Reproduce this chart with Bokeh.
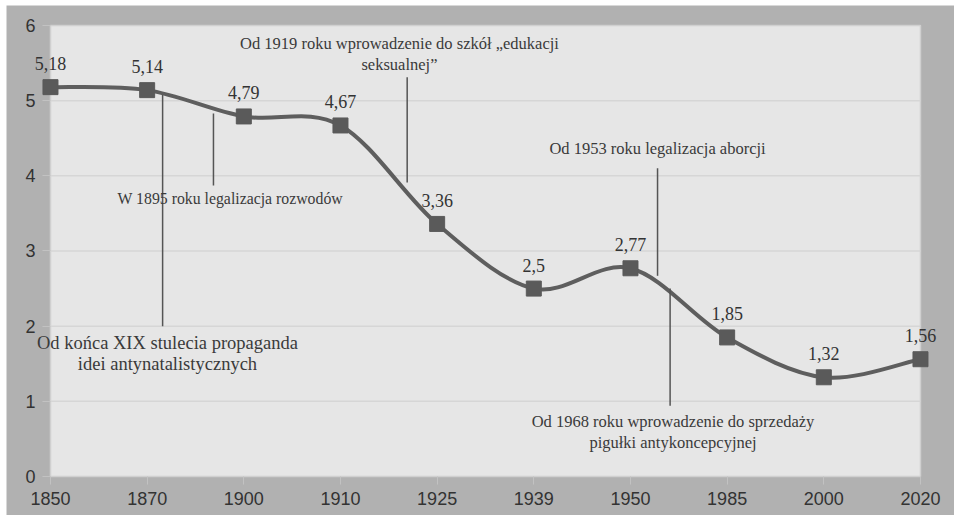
from bokeh.plotting import figure
from bokeh.models import FixedTicker, Range1d, ColumnDataSource, Label, LabelSet, Spacer
from bokeh.layouts import row, column
from bokeh.embed import file_html
from bokeh.resources import INLINE

# ---- data ----
years = ["1850", "1870", "1900", "1910", "1925", "1939", "1950", "1985", "2000", "2020"]
tfr = [5.18, 5.14, 4.79, 4.67, 3.36, 2.5, 2.77, 1.85, 1.32, 1.56]
tfr_labels = ["5,18", "5,14", "4,79", "4,67", "3,36", "2,5", "2,77", "1,85", "1,32", "1,56"]
y_ticks = [0, 1, 2, 3, 4, 5, 6]

# annotations: text lines, anchor (category index, value), leader lines
note_lines = [
    ["Od końca XIX stulecia propaganda", "idei antynatalistycznych"],
    ["W 1895 roku legalizacja rozwodów"],
    ["Od 1919 roku wprowadzenie do szkół „edukacji", "seksualnej”"],
    ["Od 1953 roku legalizacja aborcji"],
    ["Od 1968 roku wprowadzenie do sprzedaży", "pigułki antykoncepcyjnej"],
]
note_x = [1.21, 1.86, 3.61, 6.28, 6.44]
note_y = [1.77, 3.70, 5.76, 4.36, 0.73]
note_size = ["18.5px", "15.8px", "16.5px", "16.5px", "16.5px"]
lead_x = [1.16, 1.686, 3.69, 6.28, 6.41]
lead_y0 = [5.08, 4.83, 5.31, 4.10, 2.50]
lead_y1 = [2.00, 3.87, 3.91, 2.67, 0.94]

xs = list(range(len(years)))

# frame spans the whole figure; the light plot box is drawn from the data extent
p = figure(width=948, height=510, output_backend="svg", toolbar_location=None,
           x_range=Range1d(-0.455, 9.352), y_range=Range1d(-0.519, 6.266),
           min_border=0, min_border_left=0, min_border_right=0,
           min_border_top=0, min_border_bottom=0)
p.background_fill_color = "#b1b1b1"
p.border_fill_color = "#b1b1b1"
p.outline_line_color = None
p.xgrid.grid_line_color = None
p.ygrid.grid_line_color = None

p.quad(left=xs[0], right=xs[-1], bottom=y_ticks[0], top=y_ticks[-1],
       fill_color="#e6e6e6", line_color="#d0d0d0", line_width=1.5)
# horizontal gridlines inside the plot box
p.segment(x0=[xs[0]] * (len(y_ticks) - 2), x1=[xs[-1]] * (len(y_ticks) - 2),
          y0=y_ticks[1:-1], y1=y_ticks[1:-1], line_color="#d6d6d6", line_width=1.5)

p.xaxis.ticker = FixedTicker(ticks=xs)
p.xaxis.major_label_overrides = {i: y for i, y in enumerate(years)}
p.yaxis.ticker = FixedTicker(ticks=y_ticks)
p.xaxis.fixed_location = y_ticks[0]
p.yaxis.fixed_location = xs[0]

for ax in (p.xaxis[0], p.yaxis[0]):
    ax.axis_line_color = None
    ax.major_tick_in = 0
    ax.major_tick_out = 8
    ax.major_tick_line_color = "#c2c2c2"
    ax.minor_tick_line_color = None
    ax.major_label_text_font = "Liberation Sans"
    ax.major_label_text_font_size = "18px"
    ax.major_label_text_color = "#333333"
p.xaxis.major_label_standoff = 8
p.yaxis.major_label_standoff = 7

# ---- smoothed line (Excel-style Bezier through the data points) ----
n = len(tfr)
x0, y0, x1, y1, cx0, cy0, cx1, cy1 = [], [], [], [], [], [], [], []
for i in range(n - 1):
    im1 = max(i - 1, 0)
    ip2 = min(i + 2, n - 1)
    x0.append(xs[i]); y0.append(tfr[i])
    x1.append(xs[i + 1]); y1.append(tfr[i + 1])
    cx0.append(xs[i] + (xs[i + 1] - xs[im1]) / 6.0)
    cy0.append(tfr[i] + (tfr[i + 1] - tfr[im1]) / 6.0)
    cx1.append(xs[i + 1] - (xs[ip2] - xs[i]) / 6.0)
    cy1.append(tfr[i + 1] - (tfr[ip2] - tfr[i]) / 6.0)
p.bezier(x0=x0, y0=y0, x1=x1, y1=y1, cx0=cx0, cy0=cy0, cx1=cx1, cy1=cy1,
         line_color="#5e5e5e", line_width=4, line_cap="round")

# leader lines
p.segment(x0=lead_x, y0=lead_y0, x1=lead_x, y1=lead_y1, line_color="#555555", line_width=1.5)

src = ColumnDataSource(dict(x=xs, y=tfr, lab=tfr_labels))
p.scatter("x", "y", source=src, marker="square", size=15, fill_color="#5a5a5a", line_color="#5a5a5a")
p.add_layout(LabelSet(x="x", y="y", text="lab", source=src, text_align="center",
                      text_baseline="alphabetic", y_offset=17, text_font="Liberation Sans",
                      text_font_size="18px", text_color="#333333"))

for lines, nx, ny, fs in zip(note_lines, note_x, note_y, note_size):
    for k, t in enumerate(lines):
        p.add_layout(Label(x=nx, y=ny, text=t, y_offset=-k * 21, text_align="center",
                           text_baseline="middle", text_font="Liberation Serif",
                           text_font_size=fs, text_color="#3a3a3a"))

layout = row(Spacer(width=6), column(Spacer(height=5), p))
open("out.html", "w").write(file_html(layout, INLINE))
